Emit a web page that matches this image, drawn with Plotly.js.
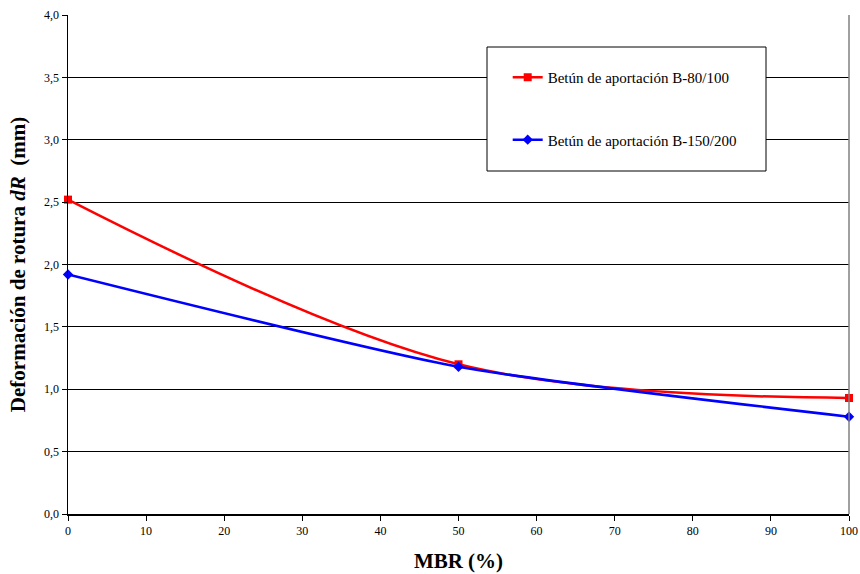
<!DOCTYPE html>
<html>
<head>
<meta charset="utf-8">
<script src="https://cdn.plot.ly/plotly-3.0.1.min.js"></script>
<style>
  html, body { margin: 0; padding: 0; background: #fff; }
  #chart { width: 860px; height: 574px; }
</style>
</head>
<body>
<div id="chart"></div>
<script>
// MBR content (%) and break deformation dR (mm) for each supply bitumen
const mbr = [0, 50, 100];
const dR_80_100 = [2.52, 1.20, 0.93];
const dR_150_200 = [1.92, 1.18, 0.78];
const seriesNames = ['Betún de aportación B-80/100', 'Betún de aportación B-150/200'];
const xTicks = [0, 10, 20, 30, 40, 50, 60, 70, 80, 90, 100];
const yTicks = [0, 0.5, 1, 1.5, 2, 2.5, 3, 3.5, 4];
const yTickText = yTicks.map(v => v.toFixed(1).replace('.', ','));

const serif = "'Liberation Serif', serif";

const traces = [
  {
    x: mbr, y: dR_80_100, name: seriesNames[0], legendgroup: 'a',
    type: 'scatter', mode: 'lines+markers',
    line: { color: '#ff0000', width: 2.5, shape: 'spline', smoothing: 1 },
    marker: { symbol: 'square', size: 8, color: '#ff0000' },
    cliponaxis: false
  },
  {
    x: mbr, y: dR_150_200, name: seriesNames[1], legendgroup: 'b',
    type: 'scatter', mode: 'lines+markers',
    line: { color: '#0000ff', width: 2.5, shape: 'spline', smoothing: 0.6 },
    marker: { symbol: 'diamond', size: 8, color: '#0000ff' },
    cliponaxis: false
  }
];

const layout = {
  width: 860, height: 574,
  margin: { l: 68, r: 11, t: 15, b: 60 },
  paper_bgcolor: '#fff', plot_bgcolor: '#fff',
  font: { family: serif, color: '#000' },
  showlegend: true,
  legend: {
    x: 0.563, y: 0.908, xanchor: 'left', yanchor: 'top',
    bgcolor: 'rgba(0,0,0,0)', borderwidth: 0,
    font: { family: serif, size: 15, color: '#000' },
    tracegroupgap: 40, traceorder: 'grouped', itemwidth: 30
  },
  xaxis: {
    range: [0, 100], tickvals: xTicks, ticktext: xTicks.map(String),
    showgrid: false, zeroline: false,
    showline: true, linecolor: '#000', linewidth: 1.5, mirror: false,
    ticks: 'outside', ticklen: 5, tickcolor: '#000', tickwidth: 1,
    tickfont: { family: serif, size: 12, color: '#000' },
    title: { text: 'MBR (%)', font: { family: serif, size: 21, color: '#000', weight: 'bold' }, standoff: 16 }
  },
  yaxis: {
    range: [0, 4], tickvals: yTicks, ticktext: yTickText,
    showgrid: true, gridcolor: '#000', gridwidth: 1, zeroline: false,
    showline: true, linecolor: '#000', linewidth: 1.5,
    ticks: 'outside', ticklen: 5, tickcolor: '#000', tickwidth: 1,
    tickfont: { family: serif, size: 12, color: '#000' },
    title: { text: 'Deformación de rotura <i>dR</i>  (mm)', font: { family: serif, size: 21, color: '#000', weight: 'bold' }, standoff: 12 }
  },
  shapes: [
    // right frame edge
    { type: 'line', xref: 'paper', yref: 'paper', x0: 1, x1: 1, y0: 0, y1: 1, line: { color: '#808080', width: 1.5 } },
    // legend frame
    { type: 'rect', xref: 'paper', yref: 'paper',
      x0: (487 - 68) / 781, x1: (766 - 68) / 781, y0: (514 - 171) / 499, y1: (514 - 47) / 499,
      line: { color: '#000', width: 1 }, fillcolor: '#fff', layer: 'above' }
  ]
};

Plotly.newPlot('chart', traces, layout, { displayModeBar: false, staticPlot: true });
</script>
</body>
</html>
